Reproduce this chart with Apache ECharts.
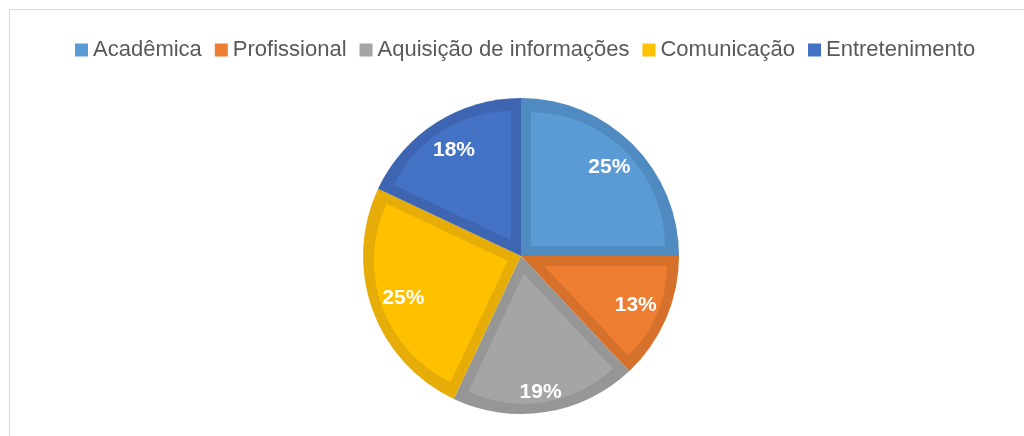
<!DOCTYPE html>
<html>
<head>
<meta charset="utf-8">
<script src="https://cdn.jsdelivr.net/npm/echarts@6/dist/echarts.min.js"></script>
<style>
  html, body { margin: 0; padding: 0; background: #fff; }
  #chart { width: 1024px; height: 436px; }
</style>
</head>
<body>
<div id="chart"></div>
<script>
// dados
const categories = ['Acadêmica', 'Profissional', 'Aquisição de informações', 'Comunicação', 'Entretenimento']
const shares = [25, 13, 19, 25, 18]
const fillColors = ['#5B9BD5', '#ED7D31', '#A5A5A5', '#FFC000', '#4472C4']
const edgeColors = ['#4F8AC0', '#D6712C', '#969696', '#E6AD08', '#3D65B2']

const center = [521, 256]
const R = 158
const band = 10
const total = shares.reduce((a, b) => a + b, 0)

const chart = echarts.init(document.getElementById('chart'))

// camada de baixo: fatia inteira com a cor da borda
const series = [
  {
    type: 'pie',
    center: center,
    radius: R,
    startAngle: 90,
    clockwise: true,
    silent: true,
    label: { show: false },
    labelLine: { show: false },
    data: categories.map((name, i) => ({
      name: name,
      value: shares[i],
      itemStyle: { color: edgeColors[i] },
    })),
  },
]

// uma série por fatia: a parte clara, deslocada para dentro (efeito de borda interna)
categories.forEach((cat, k) => {
  const half = Math.PI * shares[k] / total
  const off = band / Math.sin(half)
  series.push({
    type: 'pie',
    center: center,
    radius: R - band - off,
    startAngle: 90,
    clockwise: true,
    silent: true,
    selectedMode: 'multiple',
    selectedOffset: off,
    select: { itemStyle: { borderWidth: 0 } },
    label: { show: false },
    labelLine: { show: false },
    data: categories.map((name, i) => ({
      name: name,
      value: shares[i],
      selected: i === k,
      itemStyle: { color: i === k ? fillColors[i] : 'rgba(0,0,0,0)' },
    })),
  })
})

// rótulos de porcentagem
series.push({
  type: 'pie',
  center: center,
  radius: [86, R],
  startAngle: 90,
  clockwise: true,
  silent: true,
  z: 5,
  itemStyle: { color: 'rgba(0,0,0,0)' },
  label: {
    show: true,
    position: 'inside',
    color: '#fff',
    fontFamily: 'Liberation Sans',
    fontWeight: 'bold',
    fontSize: 21,
    lineHeight: 26,
    // o rótulo de 19% fica mais perto da borda no original
    formatter: (p) => (p.dataIndex === 2 ? '\n' : '') + Math.round(p.percent) + '%',
  },
  labelLine: { show: false },
  data: categories.map((name, i) => ({ name: name, value: shares[i] })),
})

chart.setOption({
  animation: false,
  backgroundColor: '#fff',
  graphic: [
    {
      type: 'rect',
      shape: { x: 9.5, y: 9.5, width: 1100, height: 500 },
      style: { fill: 'none', stroke: '#d9d9d9', lineWidth: 1 },
      silent: true,
    },
  ],
  legend: {
    top: 34,
    left: 70,
    icon: 'rect',
    itemWidth: 13,
    itemHeight: 13,
    itemGap: 13,
    selectedMode: false,
    textStyle: {
      color: '#595959',
      fontFamily: 'Liberation Sans',
      fontSize: 22,
      lineHeight: 22,
    },
    data: categories.map((name, i) => ({ name: name, itemStyle: { color: fillColors[i] } })),
  },
  series: series,
})
</script>
</body>
</html>
